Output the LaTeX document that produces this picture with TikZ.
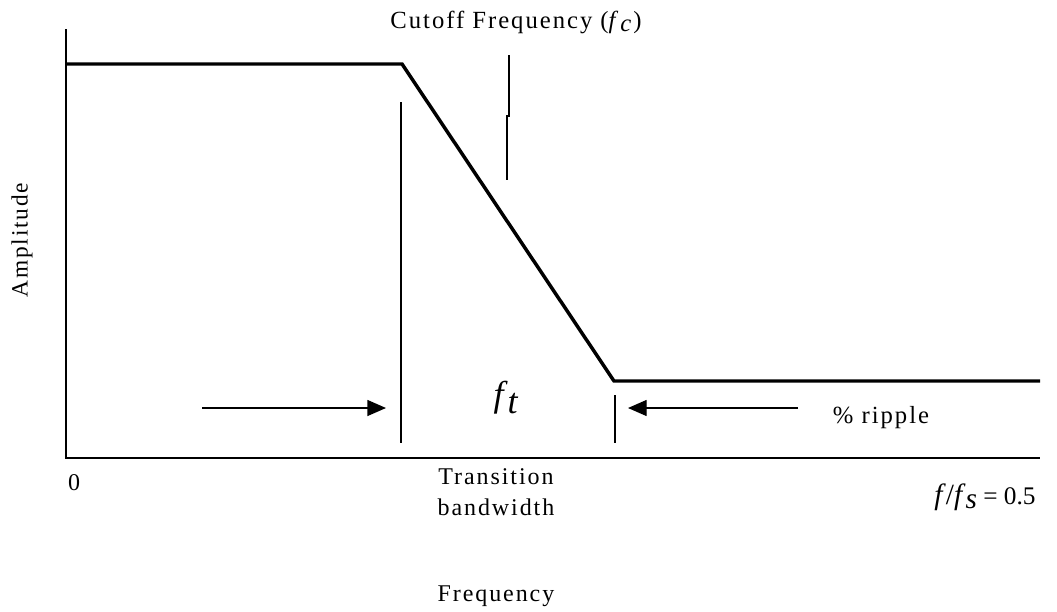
\documentclass[tikz,border=0pt]{standalone}
\usepackage{fontspec}
\setmainfont{Liberation Serif}
\newfontfamily\spaced[LetterSpace=8]{Liberation Serif}
\usetikzlibrary{arrows.meta}
\tikzset{
  axis/.style={line width=1.3pt},
  resp/.style={line width=2.6pt, line join=miter},
  thin/.style={line width=1pt},
  arr/.style={line width=1pt, -{Triangle[length=14pt,width=12pt]}},
  lbl/.style={inner sep=0pt, font=\spaced\fontsize{15}{18}\selectfont},
}
\begin{document}
\begin{tikzpicture}[x=0.75pt,y=-0.75pt]
\useasboundingbox (0,0) rectangle (1057,611);
% axes
\coordinate (ytop) at (66,29);
\coordinate (orig) at (66,458);
\coordinate (xend) at (1040,458);
\draw[axis] (ytop) -- (orig) -- (xend);
% response
\coordinate (r0) at (66,64);
\coordinate (r1) at (402,64);
\coordinate (r2) at (614,381);
\coordinate (r3) at (1040,381);
\draw[resp] (r0) -- (r1) -- (r2) -- (r3);
% marker lines
\coordinate (m1a) at (401,102);
\coordinate (m1b) at (401,443);
\draw[thin] (m1a) -- (m1b);
\coordinate (m2a) at (615,395);
\coordinate (m2b) at (615,443);
\draw[thin] (m2a) -- (m2b);
% cutoff marker
\coordinate (c1) at (509,55);
\coordinate (c2) at (509,116);
\coordinate (c3) at (507,116);
\coordinate (c4) at (507,180);
\draw[thin] (c1) -- (c2) -- (c3) -- (c4);
% arrows
\coordinate (a1s) at (202,408);
\coordinate (a1e) at (386,408);
\draw[arr] (a1s) -- (a1e);
\coordinate (a2s) at (798,408);
\coordinate (a2e) at (628,408);
\draw[arr] (a2s) -- (a2e);
% labels
\node[lbl, font=\spaced\fontsize{18.5}{21}\selectfont] (cut) at (516,22) {Cutoff Frequency (\textit{f}\raisebox{-0.35ex}{\textit{c}})};
\node[inner sep=0pt, font=\fontsize{27}{30}\selectfont] (ft) at (506,398) {\textit{f}\raisebox{-0.4ex}{\textit{t}}};
\node[lbl, font=\spaced\fontsize{18.5}{21}\selectfont] (rip) at (881,418) {\% ripple};
\node[lbl, font=\fontsize{18}{20}\selectfont] (zero) at (74,483) {0};
\node[lbl, align=center, font=\spaced\fontsize{18}{23}\selectfont] (tb) at (496,492) {Transition\\bandwidth};
\node[lbl, font=\fontsize{19}{21}\selectfont] (fs) at (985,497) {\fontsize{22}{24}\selectfont\textit{f}/\textit{f}\raisebox{-0.35ex}{\textit{s}}\fontsize{19}{21}\selectfont{} = 0.5};
\node[lbl, font=\spaced\fontsize{18}{20}\selectfont] (freq) at (496,596) {Frequency};
\node[lbl, rotate=90, font=\spaced\fontsize{17.5}{20}\selectfont] (amp) at (22,240) {Amplitude};
\end{tikzpicture}
\end{document}
